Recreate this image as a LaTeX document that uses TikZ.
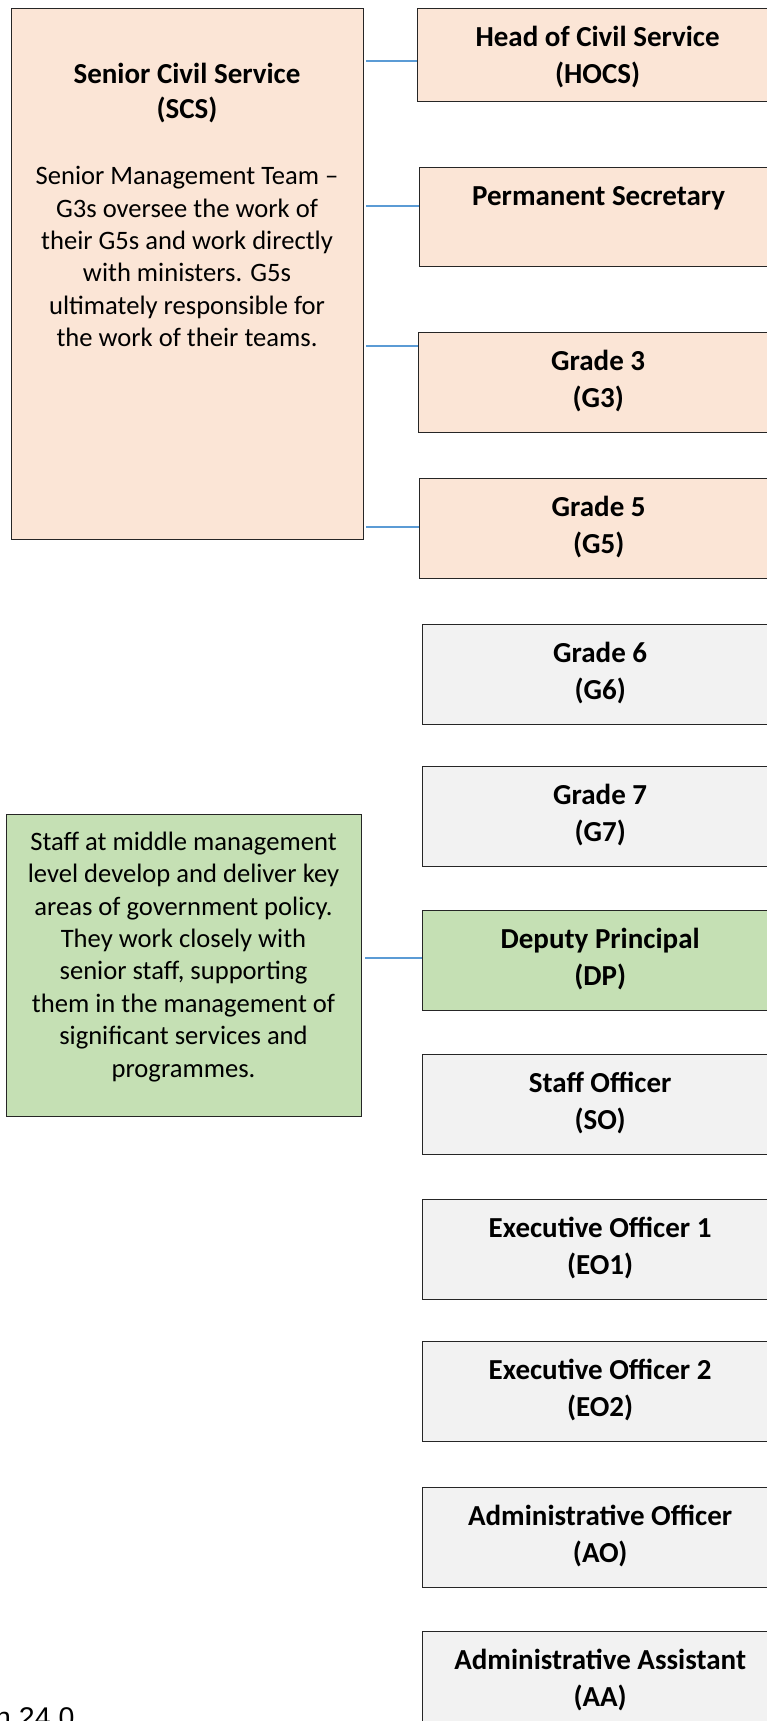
\documentclass[tikz,border=0pt]{standalone}
\usepackage{fontspec}
\setmainfont{Carlito}
\newfontfamily\notefont{Liberation Sans}
\definecolor{peach}{HTML}{FBE5D6}
\definecolor{sage}{HTML}{C5E0B4}
\definecolor{pale}{HTML}{F2F2F2}
\definecolor{linkblue}{HTML}{5B9BD5}
\definecolor{edge}{HTML}{262626}

\tikzset{
  gradebox/.style={draw=edge, line width=1.3pt, anchor=north west, inner sep=0pt,
    minimum height=100pt},
  titletext/.style={anchor=north, inner sep=0pt, align=center,
    font=\fontsize{29}{36.5}\selectfont\bfseries},
  bodytext/.style={anchor=north, inner sep=0pt, align=center,
    font=\fontsize{26.6}{32.4}\selectfont},
  link/.style={draw=linkblue, line width=1.2pt},
}
% first-line struts so that every text block hangs from a fixed baseline
\newcommand{\tstrut}{\rule{0pt}{29pt}}
\newcommand{\bstrut}{\rule{0pt}{27pt}}

\begin{document}
\begin{tikzpicture}[x=1pt, y=-1pt]
  \useasboundingbox (0,0) rectangle (767,1721);
  \clip (0,0) rectangle (767,1721);

  % left-hand description panels
  \node[gradebox, fill=peach, minimum width=352pt, minimum height=531pt] (scs) at (11,8) {};
  \node[titletext, font=\fontsize{29}{35}\selectfont\bfseries] (scstitle) at (187,54.5)
    {\tstrut Senior Civil Service\\(SCS)};
  \node[bodytext] (scsbody) at (187,157.5) {\bstrut Senior Management Team --\\
    G3s oversee the work of\\their G5s and work directly\\with ministers. G5s\\
    ultimately responsible for\\the work of their teams.};

  \node[gradebox, fill=sage, minimum width=355pt, minimum height=302pt] (mid) at (6,814) {};
  \node[bodytext] (midbody) at (183.5,823) {\bstrut Staff at middle management\\
    level develop and deliver key\\areas of government policy.\\They work closely with\\
    senior staff, supporting\\them in the management of\\significant services and\\programmes.};

  % grade ladder
  \node[gradebox, fill=peach, minimum width=360pt, minimum height=93pt] (hocs) at (417,8) {};
  \node[titletext] (hocst) at ([yshift=-9.5pt]hocs.north) {\tstrut Head of Civil Service\\(HOCS)};

  \node[gradebox, fill=peach, minimum width=358pt, minimum height=99pt] (ps) at (419,167) {};
  \node[titletext] (pst) at ([yshift=-9.5pt]ps.north) {\tstrut Permanent Secretary};

  \node[gradebox, fill=peach, minimum width=359pt] (g3) at (418,332) {};
  \node[titletext] (g3t) at ([yshift=-9.5pt]g3.north) {\tstrut Grade 3\\(G3)};

  \node[gradebox, fill=peach, minimum width=358pt] (g5) at (419,478) {};
  \node[titletext] (g5t) at ([yshift=-9.5pt]g5.north) {\tstrut Grade 5\\(G5)};

  \node[gradebox, fill=pale, minimum width=355pt] (g6) at (422,624) {};
  \node[titletext] (g6t) at ([yshift=-9.5pt]g6.north) {\tstrut Grade 6\\(G6)};

  \node[gradebox, fill=pale, minimum width=355pt] (g7) at (422,766) {};
  \node[titletext] (g7t) at ([yshift=-9.5pt]g7.north) {\tstrut Grade 7\\(G7)};

  \node[gradebox, fill=sage, minimum width=355pt] (dp) at (422,910) {};
  \node[titletext] (dpt) at ([yshift=-9.5pt]dp.north) {\tstrut Deputy Principal\\(DP)};

  \node[gradebox, fill=pale, minimum width=355pt] (so) at (422,1054) {};
  \node[titletext] (sot) at ([yshift=-9.5pt]so.north) {\tstrut Staff Officer\\(SO)};

  \node[gradebox, fill=pale, minimum width=355pt] (eoa) at (422,1199) {};
  \node[titletext] (eoat) at ([yshift=-9.5pt]eoa.north) {\tstrut Executive Officer 1\\(EO1)};

  \node[gradebox, fill=pale, minimum width=355pt] (eob) at (422,1341) {};
  \node[titletext] (eobt) at ([yshift=-9.5pt]eob.north) {\tstrut Executive Officer 2\\(EO2)};

  \node[gradebox, fill=pale, minimum width=355pt] (ao) at (422,1487) {};
  \node[titletext] (aot) at ([yshift=-9.5pt]ao.north) {\tstrut Administrative Officer\\(AO)};

  \node[gradebox, fill=pale, minimum width=355pt] (aa) at (422,1631) {};
  \node[titletext] (aat) at ([yshift=-9.5pt]aa.north) {\tstrut Administrative Assistant\\(AA)};

  % connector start points beside the description panels
  \coordinate (lhocs) at (366,61);
  \coordinate (lps)   at (366,206);
  \coordinate (lg3)   at (366,346);
  \coordinate (lg5)   at (366,527);
  \coordinate (ldp)   at (365,958);

  \draw[link] (lhocs) -- (lhocs -| hocs.west);
  \draw[link] (lps)   -- (lps -| ps.west);
  \draw[link] (lg3)   -- (lg3 -| g3.west);
  \draw[link] (lg5)   -- (lg5 -| g5.west);
  \draw[link] (ldp)   -- (ldp -| dp.west);

  % version footer, running off the lower edge
  \node[anchor=base west, inner sep=0pt, font=\notefont\fontsize{28.5}{34}\selectfont]
    (version) at (-5,1727) {n 24.0};
\end{tikzpicture}
\end{document}
